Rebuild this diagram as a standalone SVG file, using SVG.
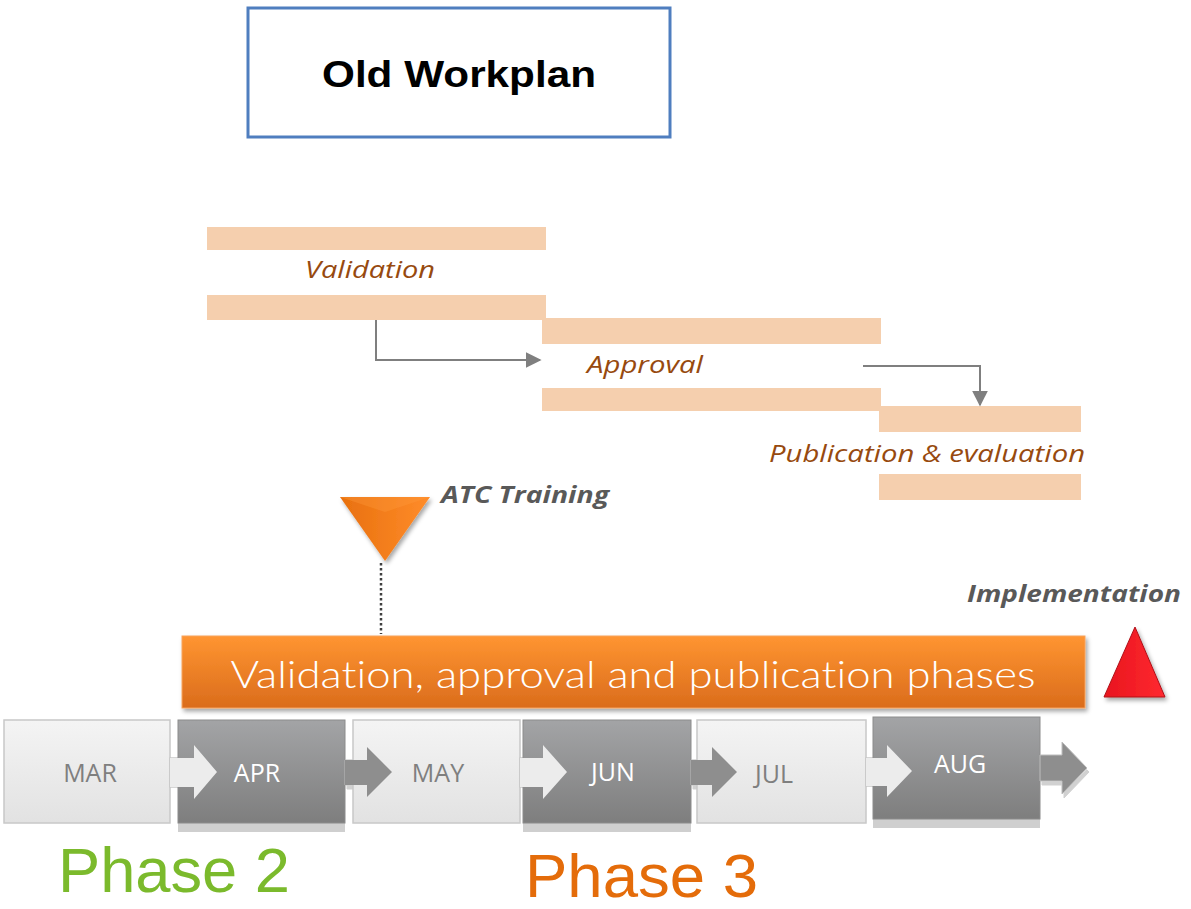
<svg xmlns="http://www.w3.org/2000/svg" width="1191" height="909" viewBox="0 0 1191 909">
<defs>
<style>
.bar{fill:#F5CFAE}
.lbl{font-family:"Open Sans","Liberation Sans",sans-serif;font-style:italic;font-size:23px;fill:#974A0F}
.ms{font-family:"Open Sans","Liberation Sans",sans-serif;font-size:25px;text-anchor:middle}
.ml{fill:#7F7F7F}
.md{fill:#FFFFFF}
.conn{fill:none;stroke:#7F7F7F;stroke-width:2}
.bi{font-family:"Open Sans","Liberation Sans",sans-serif;font-style:italic;font-weight:bold;font-size:23px;fill:#595959}
</style>
<linearGradient id="gLight" x1="0" y1="0" x2="0" y2="1"><stop offset="0" stop-color="#F4F4F4"/><stop offset="1" stop-color="#E2E2E2"/></linearGradient>
<linearGradient id="gDark" x1="0" y1="0" x2="0" y2="1"><stop offset="0" stop-color="#A3A4A6"/><stop offset="1" stop-color="#7E7E7E"/></linearGradient>
<linearGradient id="gOrange" x1="0" y1="0" x2="0" y2="1"><stop offset="0" stop-color="#FF9531"/><stop offset="1" stop-color="#DA6C1C"/></linearGradient>
<linearGradient id="gTri" x1="0" y1="0" x2="1" y2="0"><stop offset="0" stop-color="#E8700E"/><stop offset="1" stop-color="#FF8C2A"/></linearGradient>
<linearGradient id="gRed" x1="0" y1="0" x2="1" y2="0"><stop offset="0" stop-color="#E8141E"/><stop offset="1" stop-color="#FF2A30"/></linearGradient>
<filter id="sh" x="-10%" y="-10%" width="120%" height="130%"><feDropShadow dx="2" dy="3" stdDeviation="2" flood-color="#000" flood-opacity="0.35"/></filter>
<filter id="ash" x="-20%" y="-20%" width="140%" height="150%"><feDropShadow dx="2" dy="4" stdDeviation="0.5" flood-color="#000" flood-opacity="0.18"/></filter>
<marker id="ah" viewBox="0 0 10 10" refX="9" refY="5" markerWidth="8" markerHeight="8" orient="auto" markerUnits="strokeWidth"><path d="M0,0 L10,5 L0,10 z" fill="#7F7F7F"/></marker>
</defs>
<rect width="1191" height="909" fill="#FFFFFF"/>

<g id="title">
<rect x="248" y="8" width="422" height="129" fill="#FFFFFF" stroke="#4F7EBF" stroke-width="3"/>
<text x="459" y="87" text-anchor="middle" font-family="Liberation Sans, Arial, sans-serif" font-weight="bold" font-size="37" fill="#000" textLength="274" lengthAdjust="spacingAndGlyphs">Old Workplan</text>
</g>

<g id="validation">
<rect class="bar" x="207" y="227" width="339" height="23"/>
<rect class="bar" x="207" y="295" width="339" height="25"/>
<text class="lbl" x="305" y="278" textLength="130" lengthAdjust="spacingAndGlyphs">Validation</text>
</g>
<g id="approval">
<rect class="bar" x="542" y="318" width="339" height="26"/>
<rect class="bar" x="542" y="388" width="339" height="23"/>
<text class="lbl" x="587" y="373" textLength="116" lengthAdjust="spacingAndGlyphs">Approval</text>
</g>
<g id="publication">
<rect class="bar" x="879" y="406" width="202" height="26"/>
<rect class="bar" x="879" y="474" width="202" height="26"/>
<text class="lbl" x="769" y="462" textLength="316" lengthAdjust="spacingAndGlyphs">Publication &amp; evaluation</text>
</g>

<g id="connectors">
<polyline class="conn" points="376,320 376,360 540,360" marker-end="url(#ah)"/>
<polyline class="conn" points="863,366 980,366 980,405" marker-end="url(#ah)"/>
<line x1="381" y1="563" x2="381" y2="634" stroke="#404040" stroke-width="2.5" stroke-dasharray="2.5,2.5"/>
</g>

<g id="atc-training">
<polygon points="340,497 430,497 385,561" fill="url(#gTri)" filter="url(#sh)"/>
<polygon points="340,497 430,497 385,512" fill="#FF9A3C" opacity="0.35"/>
<text class="bi" x="441" y="503" textLength="168" lengthAdjust="spacingAndGlyphs">ATC Training</text>
</g>

<g id="phases-bar">
<rect x="182" y="636" width="903" height="72" fill="url(#gOrange)" stroke="#F7A35C" stroke-width="1" filter="url(#sh)"/>
<text x="633" y="688" text-anchor="middle" font-family="Lato, 'Open Sans', sans-serif" font-weight="300" font-size="38" fill="#FFFFFF" style="font-variant-ligatures:none" textLength="805" lengthAdjust="spacingAndGlyphs">Validation, approval and publication phases</text>
</g>

<g id="implementation">
<text class="bi" x="967" y="602" textLength="214" lengthAdjust="spacingAndGlyphs">Implementation</text>
<polygon points="1135,627 1104,697 1165,697" fill="url(#gRed)" stroke="#B01018" stroke-width="1" filter="url(#sh)"/>
</g>

<g id="mar">
<rect x="4" y="720" width="166" height="103" fill="url(#gLight)" stroke="#C8C8C8" stroke-width="1.5"/>
<path d="M170,758 H194 V745 L217,772 L194,799 V787 H170 Z" fill="#E9E9E9" stroke="#C8C8C8" stroke-width="1.5"/>
<text class="ms ml" x="90" y="782">MAR</text>
</g>
<g id="apr">
<rect x="178" y="727" width="167" height="105" fill="#CFCFCF"/>
<rect x="178" y="720" width="167" height="103" fill="url(#gDark)" stroke="#8C8C8C" stroke-width="1"/>
<path d="M170,758 H194 V745 L217,772 L194,799 V787 H170 Z" fill="#ECECEC"/>
<path d="M345,760 H367 V747 L392,772 L367,797 V785 H345 Z" fill="#8E8E8E" stroke="#BDBDBD" stroke-width="1" filter="url(#ash)"/>
<text class="ms md" x="257" y="782">APR</text>
</g>
<g id="may">
<rect x="353" y="720" width="167" height="103" fill="url(#gLight)" stroke="#C8C8C8" stroke-width="1.5"/>
<path d="M345,760 H367 V747 L392,772 L367,797 V785 H345 Z" fill="#8E8E8E"/>
<path d="M520,758 H543 V745 L567,772 L543,799 V787 H520 Z" fill="#E9E9E9" stroke="#C8C8C8" stroke-width="1.5"/>
<text class="ms ml" x="438" y="782">MAY</text>
</g>
<g id="jun">
<rect x="523" y="727" width="168" height="105" fill="#CFCFCF"/>
<rect x="523" y="720" width="168" height="103" fill="url(#gDark)" stroke="#8C8C8C" stroke-width="1"/>
<path d="M520,758 H543 V745 L567,772 L543,799 V787 H520 Z" fill="#ECECEC"/>
<path d="M691,760 H712 V747 L737,772 L712,797 V785 H691 Z" fill="#8E8E8E" stroke="#BDBDBD" stroke-width="1" filter="url(#ash)"/>
<text class="ms md" x="613" y="781">JUN</text>
</g>
<g id="jul">
<rect x="697" y="720" width="169" height="103" fill="url(#gLight)" stroke="#C8C8C8" stroke-width="1.5"/>
<path d="M691,760 H712 V747 L737,772 L712,797 V785 H691 Z" fill="#8E8E8E"/>
<path d="M866,758 H887 V745 L912,771 L887,797 V786 H866 Z" fill="#E9E9E9" stroke="#C8C8C8" stroke-width="1.5"/>
<text class="ms ml" x="774" y="783">JUL</text>
</g>
<g id="aug">
<rect x="873" y="724" width="167" height="104" fill="#CFCFCF"/>
<rect x="873" y="717" width="167" height="102" fill="url(#gDark)" stroke="#8C8C8C" stroke-width="1"/>
<path d="M866,758 H887 V745 L912,771 L887,797 V786 H866 Z" fill="#ECECEC"/>
<path d="M1040,755 H1062 V742 L1087,768 L1062,794 V781 H1040 Z" fill="#8E8E8E" stroke="#BDBDBD" stroke-width="1" filter="url(#ash)"/>
<text class="ms md" x="960" y="773">AUG</text>
</g>

<g id="phase2">
<text x="58" y="892" font-family="Liberation Sans, Arial, sans-serif" font-size="63" fill="#7BBA2C" textLength="232" lengthAdjust="spacingAndGlyphs">Phase 2</text>
</g>
<g id="phase3">
<text x="525" y="897" font-family="Liberation Sans, Arial, sans-serif" font-size="62" fill="#E46C0A" textLength="233" lengthAdjust="spacingAndGlyphs">Phase 3</text>
</g>
</svg>
